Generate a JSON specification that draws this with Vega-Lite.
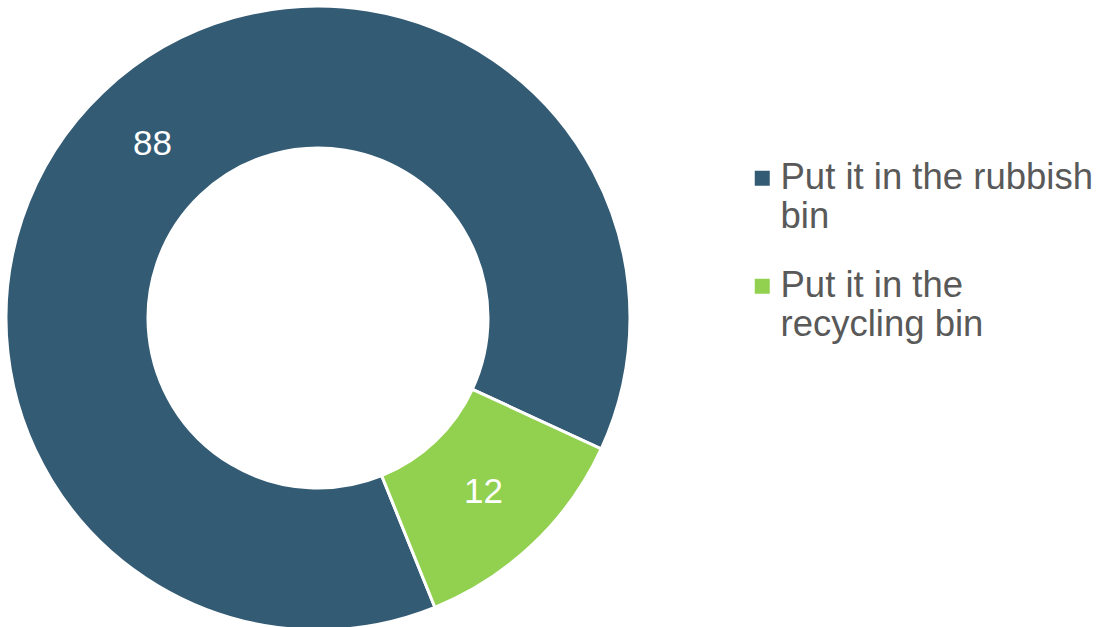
{
  "$schema": "https://vega.github.io/schema/vega-lite/v6.json",
  "width": 632,
  "height": 632,
  "padding": 0,
  "background": "white",
  "config": {"view": {"stroke": null}, "font": "Liberation Sans"},
  "data": {"values": [
    {"answer": "Put it in the rubbish bin", "value": 88, "order": 1},
    {"answer": "Put it in the recycling bin", "value": 12, "order": 2}
  ]},
  "encoding": {
    "theta": {"field": "value", "type": "quantitative", "stack": true, "scale": {"range": [2.7576, 9.0408]}},
    "order": {"field": "order", "type": "quantitative"}
  },
  "layer": [
    {
      "mark": {"type": "arc", "innerRadius": 170, "outerRadius": 312, "stroke": "white", "strokeWidth": 3},
      "encoding": {
        "color": {
          "field": "answer", "type": "nominal",
          "scale": {"domain": ["Put it in the rubbish bin", "Put it in the recycling bin"], "range": ["#335B74", "#92D050"]},
          "legend": {
            "title": null,
            "orient": "none",
            "legendX": 742,
            "legendY": 158,
            "symbolType": "square",
            "symbolSize": 225,
            "symbolStrokeWidth": 0,
            "labelFontSize": 36.5,
            "labelColor": "#595959",
            "labelFont": "Liberation Sans",
            "labelOffset": 0,
            "labelLimit": 400,
            "rowPadding": 32,
            "labelExpr": "datum.value == 'Put it in the rubbish bin' ? ['Put it in the rubbish', 'bin'] : ['Put it in the', 'recycling bin']",
            "encode": {"labels": {"update": {"lineHeight": {"value": 41}}}}
          }
        }
      }
    },
    {
      "mark": {"type": "text", "radius": 240, "fontSize": 35, "color": "white", "font": "Liberation Sans"},
      "encoding": {"text": {"field": "value", "type": "quantitative"}}
    }
  ]
}
